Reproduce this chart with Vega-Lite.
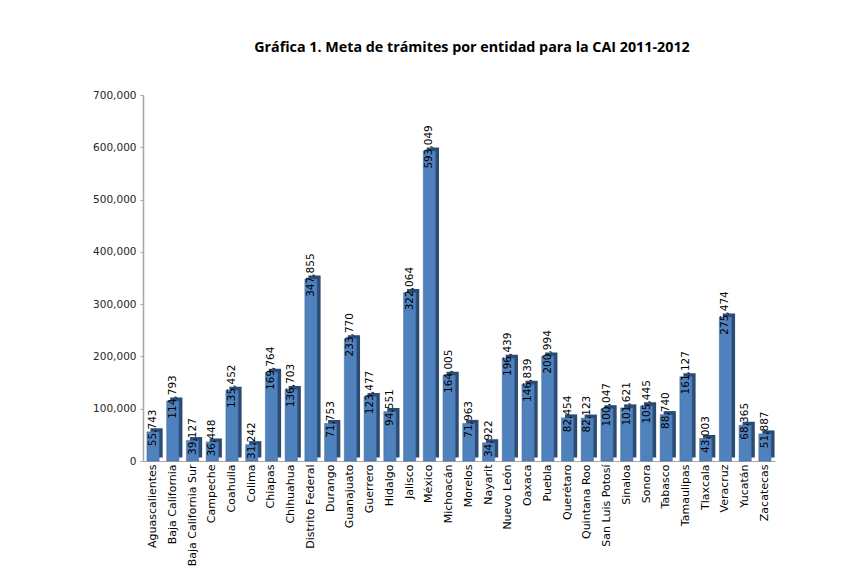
{
  "$schema": "https://vega.github.io/schema/vega-lite/v6.json",
  "width": 632,
  "height": 366,
  "autosize": "none",
  "padding": {"left": 143, "top": 95, "right": 71, "bottom": 113},
  "background": "white",
  "config": {"view": {"stroke": null}},
  "title": {
    "text": "Gráfica 1. Meta de trámites por entidad para la CAI 2011-2012",
    "font": "Open Sans",
    "fontSize": 14.3,
    "fontWeight": "bold",
    "color": "#000000",
    "anchor": "middle",
    "dx": 13,
    "offset": 35
  },
  "data": {
    "values": [
      {"entidad": "Aguascalientes", "meta": 55743},
      {"entidad": "Baja California", "meta": 114793},
      {"entidad": "Baja California Sur", "meta": 39127},
      {"entidad": "Campeche", "meta": 36448},
      {"entidad": "Coahuila", "meta": 135452},
      {"entidad": "Colima", "meta": 31242},
      {"entidad": "Chiapas", "meta": 169764},
      {"entidad": "Chihuahua", "meta": 136703},
      {"entidad": "Distrito Federal", "meta": 347855},
      {"entidad": "Durango", "meta": 71753},
      {"entidad": "Guanajuato", "meta": 233770},
      {"entidad": "Guerrero", "meta": 123477},
      {"entidad": "Hidalgo", "meta": 94551},
      {"entidad": "Jalisco", "meta": 322064},
      {"entidad": "México", "meta": 593049},
      {"entidad": "Michoacán", "meta": 164005},
      {"entidad": "Morelos", "meta": 71963},
      {"entidad": "Nayarit", "meta": 34922},
      {"entidad": "Nuevo León", "meta": 196439},
      {"entidad": "Oaxaca", "meta": 146839},
      {"entidad": "Puebla", "meta": 200994},
      {"entidad": "Querétaro", "meta": 82454},
      {"entidad": "Quintana Roo", "meta": 82123},
      {"entidad": "San Luis Potosí", "meta": 100047},
      {"entidad": "Sinaloa", "meta": 101621},
      {"entidad": "Sonora", "meta": 105445},
      {"entidad": "Tabasco", "meta": 88740},
      {"entidad": "Tamaulipas", "meta": 161127},
      {"entidad": "Tlaxcala", "meta": 43003},
      {"entidad": "Veracruz", "meta": 275474},
      {"entidad": "Yucatán", "meta": 68365},
      {"entidad": "Zacatecas", "meta": 51887}
    ]
  },
  "encoding": {
    "x": {
      "field": "entidad",
      "type": "nominal",
      "sort": null,
      "scale": {"paddingInner": 0.38, "paddingOuter": 0.2},
      "axis": {
        "title": null,
        "labelAngle": -90,
        "labelFont": "DejaVu Sans",
        "labelFontSize": 11,
        "labelColor": "#000000",
        "labelPadding": 3,
        "ticks": false,
        "domainColor": "#a6a6a6",
        "domainWidth": 1
      }
    },
    "y": {
      "field": "meta",
      "type": "quantitative",
      "scale": {"domain": [0, 700000]},
      "axis": {
        "title": null,
        "values": [0, 100000, 200000, 300000, 400000, 500000, 600000, 700000],
        "labelExpr": "format(datum.value, ',')",
        "grid": false,
        "labelFont": "DejaVu Sans",
        "labelFontSize": 10.5,
        "labelColor": "#262626",
        "labelPadding": 4,
        "tickColor": "#a6a6a6",
        "tickSize": 3,
        "domainColor": "#a6a6a6",
        "domainWidth": 1.5
      }
    }
  },
  "layer": [
    {
      "mark": {"type": "bar", "color": "#2c4b73", "xOffset": 3.5, "yOffset": -3.5},
      "encoding": {}
    },
    {
      "mark": {"type": "bar", "color": "#4f81bd", "stroke": "#3d6aa0", "strokeWidth": 0.5},
      "encoding": {}
    },
    {
      "mark": {
        "type": "text",
        "angle": 270,
        "align": "center",
        "baseline": "middle",
        "font": "DejaVu Sans",
        "fontSize": 10.5,
        "color": "#000000",
        "yOffset": -4
      },
      "encoding": {
        "text": {"field": "meta", "type": "quantitative", "format": ","}
      }
    }
  ]
}
